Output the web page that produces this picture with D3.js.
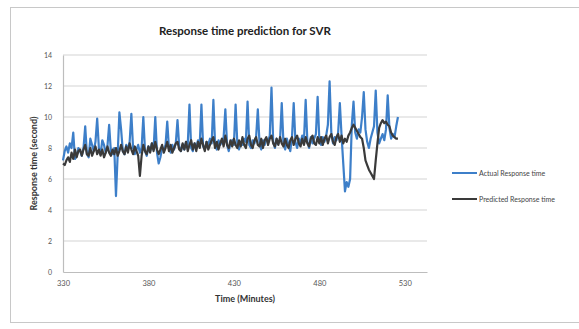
<!DOCTYPE html>
<html>
<head>
<meta charset="utf-8">
<script src="https://cdn.jsdelivr.net/npm/d3@7"></script>
<style>
  body { margin: 0; background: #fff; }
  text { font-family: Lato, "Open Sans", sans-serif; }
</style>
</head>
<body>
<script>
// minutes 330..526, one value per minute
const startMinute = 330
const actual = [
  7.2, 7.8, 8.1, 7.7, 8.3, 8.0, 9.0, 7.3, 7.5, 8.0,
  7.8, 7.5, 8.0, 9.4, 7.6, 7.4, 8.6, 8.2, 7.8, 8.4,
  9.9, 8.0, 7.6, 8.5, 8.2, 7.7, 8.1, 9.5, 7.8, 7.6,
  8.0, 4.9, 7.6, 10.3, 9.2, 7.8, 7.6, 8.2, 7.9, 8.4,
  10.2, 8.0, 7.6, 7.9, 8.2, 7.7, 8.0, 10.0, 7.8, 7.5,
  8.1, 7.8, 8.3, 7.9, 10.0, 7.7, 7.0, 7.4, 8.0, 7.9,
  8.2, 9.7, 8.0, 7.7, 8.2, 7.9, 8.3, 9.8, 8.1, 7.8,
  8.2, 7.9, 8.4, 8.2, 10.8, 8.0, 7.8, 8.3, 8.0, 8.5,
  8.2, 10.8, 8.1, 7.9, 8.4, 8.2, 8.6, 8.3, 11.1, 8.2,
  7.9, 8.5, 8.2, 8.4, 8.7, 10.5, 8.2, 7.8, 8.3, 8.5,
  8.2, 10.8, 8.3, 7.9, 8.4, 8.2, 8.6, 8.4, 11.0, 8.2,
  8.0, 8.5, 8.3, 8.7, 10.5, 8.3, 7.9, 8.5, 8.2, 8.6,
  8.4, 8.8, 11.9, 8.4, 8.0, 8.6, 8.3, 8.5, 10.9, 8.3,
  7.9, 8.6, 8.2, 7.8, 8.7, 10.9, 8.4, 8.0, 8.6, 8.3,
  8.8, 8.5, 11.1, 8.4, 8.0, 8.7, 8.3, 8.6, 8.9, 11.3,
  8.5, 8.2, 8.7, 8.4, 8.8, 9.5, 12.3, 9.0, 8.3, 8.7,
  8.5, 9.0, 10.9, 8.8, 7.0, 5.2, 5.8, 5.5, 6.0, 9.5,
  11.0, 9.0, 8.6, 9.2, 9.0, 10.0, 11.6, 9.2, 8.4, 8.0,
  8.6, 9.0, 9.4, 11.7, 9.0, 8.3, 8.6, 8.9, 8.5, 9.2,
  11.4, 9.3, 8.6, 8.9, 8.7, 9.4, 10.0
]
const predicted = [
  7.0, 6.9, 7.2, 7.4, 7.1, 7.7, 7.3, 7.9, 7.4, 7.8,
  7.9, 7.5, 7.9, 8.2, 7.6, 7.5, 8.0, 7.5, 7.8, 8.1,
  7.6, 7.9, 7.5, 7.9, 7.4, 7.7, 8.1, 7.7, 7.5, 7.9,
  7.6, 8.0, 7.5, 7.8, 8.2, 7.8, 7.6, 8.1, 7.7, 8.3,
  7.9, 7.6, 8.1, 7.8, 7.5, 6.2, 7.5, 8.2, 7.8, 7.6,
  8.1, 7.7, 8.3, 7.8, 8.4, 7.9, 7.6, 7.9, 8.2, 7.7,
  8.0, 8.4, 7.8, 8.2, 7.7, 8.0, 8.3, 8.4, 7.9, 7.8,
  8.3, 7.9, 8.4, 7.8, 8.2, 8.5, 7.9, 8.3, 7.8, 8.4,
  8.0, 8.6, 8.2, 7.8, 8.4, 7.9, 8.2, 8.5, 8.7, 8.0,
  8.4, 7.9, 8.3, 8.6, 8.1, 8.8, 8.2, 8.0, 8.5, 8.1,
  8.6, 8.2, 8.0, 8.5, 8.1, 8.7, 8.2, 8.0, 8.6, 8.8,
  8.2, 8.0, 8.5, 8.7, 8.2, 8.1, 8.6, 8.0, 8.5, 8.7,
  8.2, 8.6, 8.8, 8.3, 8.1, 8.6, 8.2, 8.7, 8.3, 8.1,
  8.6, 8.2, 8.0, 8.5, 8.7, 8.2, 8.6, 8.8, 8.3, 8.1,
  8.6, 8.2, 8.7, 8.3, 8.1, 8.6, 8.8, 8.3, 8.2, 8.7,
  8.3, 8.7, 8.2, 8.6, 8.8, 8.3, 8.7, 8.9, 8.4, 8.2,
  8.7, 8.9, 8.4, 8.8, 8.3, 8.6, 8.4, 8.8, 9.0, 9.3,
  9.5, 9.3, 9.1, 8.9, 8.7, 8.6, 8.0, 7.2, 6.9, 6.6,
  6.4, 6.2, 6.0, 7.2, 8.3, 9.3, 9.6, 9.8, 9.6, 9.7,
  9.5, 9.4, 9.0, 8.8, 8.7, 8.6, 8.6
]
const xTicks = [330, 380, 430, 480, 530]
const yTicks = [0, 2, 4, 6, 8, 10, 12, 14]
const seriesNames = ["Actual Response time", "Predicted Response time"]
const seriesColors = ["#3d7fc9", "#3a3a3a"]

const width = 579, height = 329
const plot = { left: 63, right: 427, top: 55, bottom: 272 }

const svg = d3.select("body").append("svg")
  .attr("width", width)
  .attr("height", height)

// outer chart frame
svg.append("rect")
  .attr("x", 10.5).attr("y", 7.5)
  .attr("width", 575).attr("height", 315)
  .style("fill", "#fff")
  .style("stroke", "#c8c8c8")

const x = d3.scaleLinear().domain([330, 543]).range([plot.left, plot.right])
const y = d3.scaleLinear().domain([0, 14]).range([plot.bottom, plot.top])

// gridlines
svg.append("g")
  .selectAll("line")
  .data(yTicks.filter(d => d > 0))
  .join("line")
  .attr("x1", plot.left).attr("x2", plot.right)
  .attr("y1", d => y(d)).attr("y2", d => y(d))
  .style("stroke", "#d4d4d4")
  .style("stroke-width", 1.2)

// y axis
const yAxis = svg.append("g")
  .attr("transform", `translate(${plot.left},0)`)
  .call(d3.axisLeft(y).tickValues(yTicks).tickSize(0).tickPadding(11))
yAxis.select(".domain").style("stroke", "#bdbdbd").style("stroke-width", 1.2)
yAxis.selectAll("text").style("font-size", "7px").style("fill", "#555")

// x axis
const xAxis = svg.append("g")
  .attr("transform", `translate(0,${plot.bottom})`)
  .call(d3.axisBottom(x).tickValues(xTicks).tickSize(0).tickPadding(9))
xAxis.select(".domain").style("stroke", "#bdbdbd").style("stroke-width", 1.2)
xAxis.selectAll("text").style("font-size", "7.5px").style("fill", "#555")

const line = d3.line()
  .x((d, i) => x(startMinute + i))
  .y(d => y(d))

svg.append("path")
  .datum(actual)
  .attr("d", line)
  .style("fill", "none")
  .style("stroke", seriesColors[0])
  .style("stroke-width", 2.2)
  .style("stroke-linejoin", "round")

svg.append("path")
  .datum(predicted)
  .attr("d", line)
  .style("fill", "none")
  .style("stroke", seriesColors[1])
  .style("stroke-width", 2.2)
  .style("stroke-linejoin", "round")

// titles
svg.append("text")
  .attr("x", 245).attr("y", 35)
  .attr("text-anchor", "middle")
  .style("font-size", "11.5px")
  .style("font-weight", "bold")
  .style("fill", "#222")
  .text("Response time prediction for SVR")

svg.append("text")
  .attr("x", 245).attr("y", 302)
  .attr("text-anchor", "middle")
  .style("font-size", "9px")
  .style("font-weight", "bold")
  .style("fill", "#333")
  .text("Time (Minutes)")

svg.append("text")
  .attr("transform", `translate(37,${(plot.top + plot.bottom) / 2}) rotate(-90)`)
  .attr("text-anchor", "middle")
  .style("font-size", "9px")
  .style("font-weight", "bold")
  .style("fill", "#333")
  .text("Response time (second)")

// legend
const legend = svg.append("g")
  .selectAll("g")
  .data(seriesNames)
  .join("g")
  .attr("transform", (d, i) => `translate(452,${173 + i * 26})`)

legend.append("line")
  .attr("x1", 0).attr("x2", 25)
  .style("stroke", (d, i) => seriesColors[i])
  .style("stroke-width", 2)

legend.append("text")
  .attr("x", 27).attr("y", 2.5)
  .style("font-size", "7px")
  .style("fill", "#444")
  .text(d => d)
</script>
</body>
</html>
